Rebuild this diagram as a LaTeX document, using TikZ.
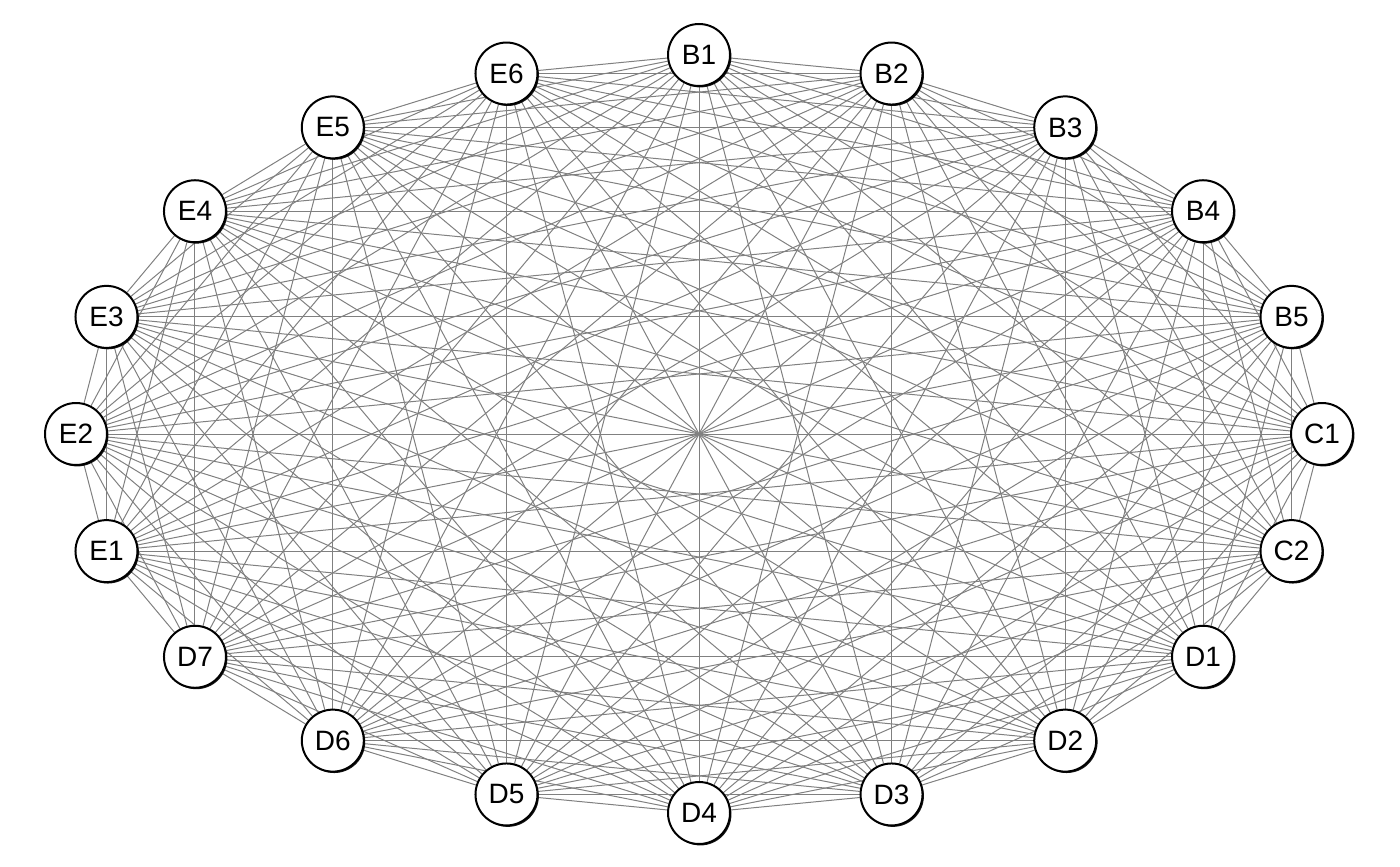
\documentclass[tikz,border=0pt]{standalone}
\usepackage{fontspec}
\setmainfont{Liberation Sans}
\usetikzlibrary{shadows,backgrounds}
\begin{document}
\begin{tikzpicture}[x=0.5pt,y=-0.5pt,
  vtx/.style={circle, draw=black, line width=1pt, fill=white, minimum size=31pt, inner sep=0pt,
    font=\fontsize{14}{16}\selectfont,
    drop shadow={shadow xshift=0.7pt, shadow yshift=-0.7pt, fill=black, opacity=0.9}},
  edge/.style={draw=black!50, line width=0.5pt}]
\useasboundingbox (0,0) rectangle (1400,866);
\foreach \n/\ang [count=\i] in {B1/90,B2/72,B3/54,B4/36,B5/18,C1/0,C2/-18,D1/-36,D2/-54,D3/-72,D4/-90,D5/-108,D6/-126,D7/-144,E1/-162,E2/180,E3/162,E4/144,E5/126,E6/108}
  \node[vtx] (v\i) at ({699+623*cos(\ang)},{434-379*sin(\ang)}) {\n};
\begin{scope}[on background layer]
\foreach \i in {1,...,19}{
  \pgfmathtruncatemacro\s{\i+1}
  \foreach \j in {\s,...,20}{\draw[edge] (v\i) -- (v\j);}
}
\end{scope}
\end{tikzpicture}
\end{document}
